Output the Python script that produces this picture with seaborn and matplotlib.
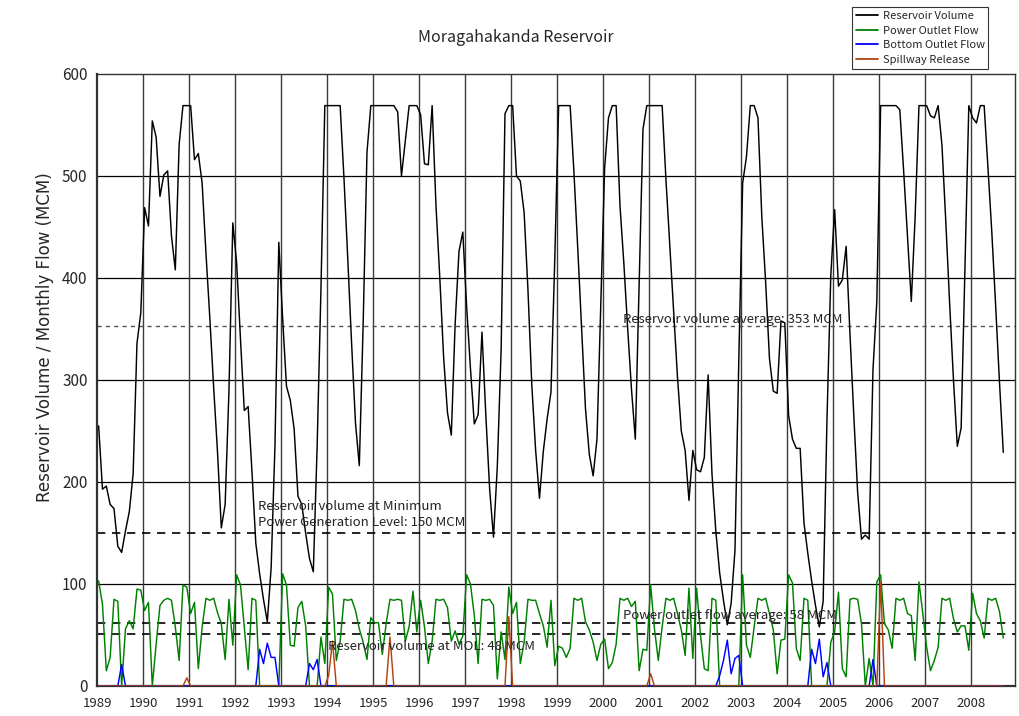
import numpy as np
import pandas as pd
import matplotlib
matplotlib.use("Agg")
import matplotlib.pyplot as plt
import seaborn as sns

# ---------------- data (monthly, Jan 1989 - Sep 2008, MCM) ----------------
year_ticks = list(range(1989, 2009))

volume = [
    255, 193, 196, 178, 174, 137, 131, 152, 171, 208, 336, 366,   # 1989
    469, 451, 554, 538, 480, 501, 505, 441, 408, 531, 569, 569,   # 1990
    569, 516, 522, 493, 424, 361, 293, 230, 155, 178, 290, 454,   # 1991
    415, 340, 270, 274, 210, 140, 110, 85, 63, 116, 236, 435,     # 1992
    360, 294, 280, 252, 186, 178, 150, 125, 112, 235, 390, 569,   # 1993
    569, 569, 569, 569, 498, 418, 335, 258, 216, 354, 523, 569,   # 1994
    569, 569, 569, 569, 569, 569, 563, 500, 535, 569, 569, 569,   # 1995
    560, 512, 511, 569, 471, 400, 322, 268, 246, 355, 426, 445,   # 1996
    372, 311, 257, 266, 347, 266, 193, 146, 215, 330, 561, 569,   # 1997
    569, 500, 495, 464, 388, 295, 231, 184, 230, 262, 288, 420,   # 1998
    569, 569, 569, 569, 503, 428, 350, 272, 227, 206, 242, 376,   # 1999
    508, 557, 569, 569, 471, 415, 351, 291, 242, 396, 546, 569,   # 2000
    569, 569, 569, 569, 496, 432, 367, 303, 250, 231, 182, 231,   # 2001
    212, 210, 224, 305, 208, 152, 111, 84, 60, 81, 133, 320,      # 2002
    493, 519, 569, 569, 557, 460, 396, 321, 289, 287, 358, 356,   # 2003
    265, 242, 233, 233, 160, 130, 103, 79, 58, 83, 261, 403,      # 2004
    467, 392, 398, 431, 345, 265, 190, 144, 148, 144, 310, 377,   # 2005
    569, 569, 569, 569, 569, 565, 505, 441, 377, 460, 569, 569,   # 2006
    569, 559, 557, 569, 530, 455, 375, 300, 235, 253, 411, 569,   # 2007
    557, 552, 569, 569, 508, 445, 373, 298, 229,                  # 2008
]

power = [
    103, 80, 15, 28, 85, 83, 0, 56, 64, 56, 95, 94,     # 1989
    74, 82, 0, 41, 79, 84, 86, 84, 58, 25, 99, 97,      # 1990
    71, 82, 17, 58, 86, 84, 86, 72, 61, 26, 85, 40,     # 1991
    109, 99, 58, 16, 86, 84, 0, 0, 0, 0, 0, 0,          # 1992
    110, 99, 40, 39, 77, 83, 59, 0, 0, 0, 48, 22,       # 1993
    97, 90, 25, 44, 85, 84, 85, 74, 56, 43, 26, 67,     # 1994
    62, 62, 31, 61, 85, 84, 85, 84, 44, 58, 93, 53,     # 1995
    84, 58, 22, 44, 85, 84, 85, 77, 44, 54, 41, 49,     # 1996
    109, 100, 69, 22, 85, 84, 85, 79, 7, 53, 26, 97,    # 1997
    71, 82, 22, 43, 85, 84, 84, 71, 59, 38, 84, 20,     # 1998
    39, 37, 28, 37, 86, 84, 86, 63, 55, 43, 25, 41,     # 1999
    46, 17, 23, 41, 86, 84, 86, 78, 83, 15, 36, 35,     # 2000
    99, 56, 25, 58, 86, 84, 86, 71, 55, 30, 96, 27,     # 2001
    96, 50, 17, 15, 86, 84, 0, 0, 0, 0, 0, 0,           # 2002
    109, 40, 28, 58, 86, 84, 86, 71, 55, 12, 45, 46,    # 2003
    109, 101, 37, 25, 86, 84, 0, 0, 0, 0, 0, 43,        # 2004
    53, 92, 17, 9, 85, 86, 85, 61, 0, 27, 0, 102,       # 2005
    109, 61, 55, 37, 86, 84, 86, 71, 69, 25, 102, 71,   # 2006
    38, 15, 25, 38, 86, 84, 86, 66, 53, 59, 59, 35,     # 2007
    91, 71, 64, 47, 86, 84, 86, 73, 47,                 # 2008
]

bottom = [
    0, 0, 0, 0, 0, 0, 21, 0, 0, 0, 0, 0,     # 1989
    0, 0, 0, 0, 0, 0, 0, 0, 0, 0, 0, 0,      # 1990
    0, 0, 0, 0, 0, 0, 0, 0, 0, 0, 0, 0,      # 1991
    0, 0, 0, 0, 0, 0, 36, 22, 42, 28, 28, 0, # 1992
    0, 0, 0, 0, 0, 0, 0, 22, 16, 26, 0, 0,   # 1993
    0, 0, 0, 0, 0, 0, 0, 0, 0, 0, 0, 0,      # 1994
    0, 0, 0, 0, 0, 0, 0, 0, 0, 0, 0, 0,      # 1995
    0, 0, 0, 0, 0, 0, 0, 0, 0, 0, 0, 0,      # 1996
    0, 0, 0, 0, 0, 0, 0, 0, 0, 0, 0, 0,      # 1997
    0, 0, 0, 0, 0, 0, 0, 0, 0, 0, 0, 0,      # 1998
    0, 0, 0, 0, 0, 0, 0, 0, 0, 0, 0, 0,      # 1999
    0, 0, 0, 0, 0, 0, 0, 0, 0, 0, 0, 0,      # 2000
    0, 0, 0, 0, 0, 0, 0, 0, 0, 0, 0, 0,      # 2001
    0, 0, 0, 0, 0, 0, 10, 25, 45, 12, 27, 30,# 2002
    0, 0, 0, 0, 0, 0, 0, 0, 0, 0, 0, 0,      # 2003
    0, 0, 0, 0, 0, 0, 36, 22, 46, 9, 23, 0,  # 2004
    0, 0, 0, 0, 0, 0, 0, 0, 0, 0, 26, 0,     # 2005
    0, 0, 0, 0, 0, 0, 0, 0, 0, 0, 0, 0,      # 2006
    0, 0, 0, 0, 0, 0, 0, 0, 0, 0, 0, 0,      # 2007
    0, 0, 0, 0, 0, 0, 0, 0, 0,               # 2008
]

spill = [
    0, 0, 0, 0, 0, 0, 0, 0, 0, 0, 0, 0,      # 1989
    0, 0, 0, 0, 0, 0, 0, 0, 0, 0, 0, 8,      # 1990
    0, 0, 0, 0, 0, 0, 0, 0, 0, 0, 0, 0,      # 1991
    0, 0, 0, 0, 0, 0, 0, 0, 0, 0, 0, 0,      # 1992
    0, 0, 0, 0, 0, 0, 0, 0, 0, 0, 0, 0,      # 1993
    10, 44, 0, 0, 0, 0, 0, 0, 0, 0, 0, 0,    # 1994
    0, 0, 0, 0, 48, 0, 0, 0, 0, 0, 0, 0,     # 1995
    0, 0, 0, 0, 0, 0, 0, 0, 0, 0, 0, 0,      # 1996
    0, 0, 0, 0, 0, 0, 0, 0, 0, 0, 0, 68,     # 1997
    0, 0, 0, 0, 0, 0, 0, 0, 0, 0, 0, 0,      # 1998
    0, 0, 0, 0, 0, 0, 0, 0, 0, 0, 0, 0,      # 1999
    0, 0, 0, 0, 0, 0, 0, 0, 0, 0, 0, 0,      # 2000
    12, 0, 0, 0, 0, 0, 0, 0, 0, 0, 0, 0,     # 2001
    0, 0, 0, 0, 0, 0, 0, 0, 0, 0, 0, 0,      # 2002
    0, 0, 0, 0, 0, 0, 0, 0, 0, 0, 0, 0,      # 2003
    0, 0, 0, 0, 0, 0, 0, 0, 0, 0, 0, 0,      # 2004
    0, 0, 0, 0, 0, 0, 0, 0, 0, 0, 0, 0,      # 2005
    102, 0, 0, 0, 0, 0, 0, 0, 0, 0, 0, 0,    # 2006
    0, 0, 0, 0, 0, 0, 0, 0, 0, 0, 0, 0,      # 2007
    0, 0, 0, 0, 0, 0, 0, 0, 0,               # 2008
]

series_names = ["Reservoir Volume", "Power Outlet Flow", "Bottom Outlet Flow", "Spillway Release"]
series_colors = ["#000000", "#008000", "#0000FF", "#B5430F"]

avg_volume_level = 353
min_power_level = 150
power_avg_level = 61.5
mol_level = 50.5

# ---------------- build long table ----------------
n = len(volume)
t = 1989 + (np.arange(n) + 0.35) / 12.0
frames = []
for name, vals in zip(series_names, [volume, power, bottom, spill]):
    frames.append(pd.DataFrame({"t": t, "value": vals, "series": name}))
df = pd.concat(frames, ignore_index=True)

# ---------------- plot ----------------
sns.set_style("white")
plt.rcParams["font.family"] = ["Noto Sans CJK JP", "DejaVu Sans"]

fig = plt.figure(figsize=(10.19, 7.16), dpi=100)
ax = fig.add_axes([97.3 / 1019, 30 / 716, (1015 - 97.3) / 1019, 612 / 716])

x_max = 1989 + (1015 - 97.3) / 46.0
ax.set_xlim(1989, x_max)
ax.set_ylim(0, 600)

# grid
for y in range(100, 600, 100):
    ax.axhline(y, color="black", lw=0.9, zorder=1)
for yr in year_ticks[1:]:
    ax.axvline(yr, color="#3a3a3a", lw=1.0, zorder=1)

# reference lines
ax.axhline(avg_volume_level, color="#555555", lw=1.0, ls=(0, (3, 3)), zorder=2)
ax.axhline(min_power_level, color="black", lw=1.2, ls=(0, (5, 4)), zorder=2)
ax.axhline(power_avg_level, color="black", lw=1.2, ls=(0, (5, 4)), zorder=2)
ax.axhline(mol_level, color="black", lw=1.2, ls=(0, (5, 4)), zorder=2)

sns.lineplot(data=df, x="t", y="value", hue="series", hue_order=series_names,
             palette=dict(zip(series_names, series_colors)), estimator=None,
             sort=False, lw=1.05, ax=ax, legend=False, zorder=3)

# annotations
def fx(px):
    return 1989 + (px - 97.3) / 46.0

def fy(py):
    return (686 - py) / 1.02

ann_kw = dict(fontsize=9.5, color="#222222", va="center", ha="left", zorder=4)
ax.text(fx(623), fy(320), "Reservoir volume average: 353 MCM", **ann_kw)
ax.text(fx(258), fy(506), "Reservoir volume at Minimum", **ann_kw)
ax.text(fx(258), fy(522), "Power Generation Level: 150 MCM", **ann_kw)
ax.text(fx(623), fy(616), "Power outlet flow average: 58 MCM", **ann_kw)
ax.text(fx(328), fy(647), "Reservoir volume at MOL: 48 MCM", **ann_kw)

# axes cosmetics
ax.set_yticks(range(0, 700, 100))
ax.set_yticklabels([str(v) for v in range(0, 700, 100)], fontsize=11)
ax.set_xticks(year_ticks)
ax.set_xticklabels([str(y) for y in year_ticks], fontsize=9.5)
ax.tick_params(axis="x", length=0, pad=8)
ax.tick_params(axis="y", length=3, pad=4)
ax.set_xlabel("")
ax.set_ylabel("")
fig.text(45 / 1019, 1 - 337 / 716, "Reservoir Volume / Monthly Flow (MCM)",
         rotation=90, ha="center", va="center", fontsize=12,
         family=["DejaVu Sans"])
for side in ["left", "bottom"]:
    ax.spines[side].set_color("#333333")
    ax.spines[side].set_linewidth(1.6)
for side in ["right", "top"]:
    ax.spines[side].set_color("#333333")
    ax.spines[side].set_linewidth(1.0)

fig.text(516 / 1019, 1 - 37 / 716, "Moragahakanda Reservoir", ha="center", va="center", fontsize=11.5)

# legend
from matplotlib.lines import Line2D
handles = [Line2D([0], [0], color=c, lw=1.3) for c in series_colors]
leg = fig.legend(handles, series_names, loc="upper left",
                 bbox_to_anchor=(852 / 1019, 1 - 7 / 716), fontsize=8,
                 frameon=True, fancybox=False, edgecolor="black",
                 handlelength=2.0, handletextpad=0.4, borderpad=0.35,
                 labelspacing=0.42, borderaxespad=0)
leg.get_frame().set_linewidth(0.8)

fig.savefig("out.png", dpi=100)
